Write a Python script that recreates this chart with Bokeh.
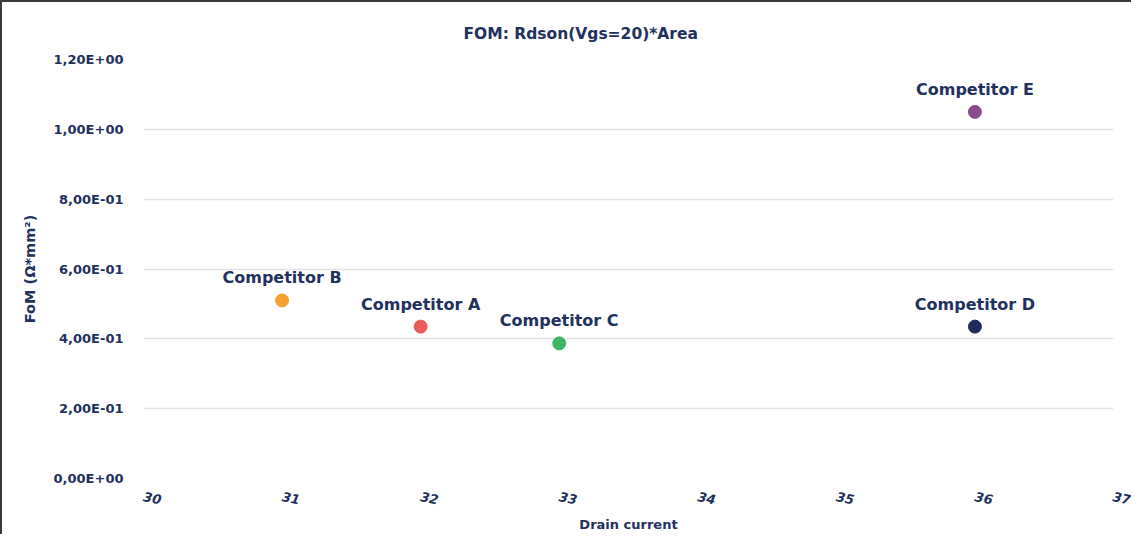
from bokeh.plotting import figure
from bokeh.models import ColumnDataSource, FixedTicker, Range1d
from bokeh.core.properties import value
from bokeh.embed import file_html
from bokeh.resources import INLINE

# data
names = ["Competitor A", "Competitor B", "Competitor C", "Competitor D", "Competitor E"]
drain_current = [32, 31, 33, 36, 36]
fom = [0.435, 0.51, 0.387, 0.435, 1.05]
colors = ["#ec5b5b", "#f5a031", "#3db564", "#1d2a5a", "#8d4b8f"]
y_ticks = [0.0, 0.2, 0.4, 0.6, 0.8, 1.0, 1.2]
y_tick_labels = ["0,00E+00", "2,00E-01", "4,00E-01", "6,00E-01", "8,00E-01", "1,00E+00", "1,20E+00"]
x_ticks = [30, 31, 32, 33, 34, 35, 36, 37]

NAVY = "#22305e"
FONT = "DejaVu Sans"

src = ColumnDataSource(dict(x=drain_current, y=fom, name=names, color=colors))

p = figure(width=1131, height=534, output_backend="svg", toolbar_location=None,
           x_range=Range1d(30, 37), y_range=Range1d(0, 1.2),
           min_border_left=141, min_border_right=20, min_border_top=57, min_border_bottom=58,
           title="FOM: Rdson(Vgs=20)*Area",
           styles={"border-top": "2px solid #3a3a3a", "border-left": "2px solid #3a3a3a"})

p.title.align = "left"
p.title.text_font = FONT
p.title.text_font_size = "15.5px"
p.title.text_font_style = "bold"
p.title.text_color = NAVY
p.title.offset = 320
p.title.standoff = 33

p.outline_line_color = None
p.xgrid.grid_line_color = None
p.ygrid.grid_line_color = "#e3e3e3"
p.ygrid.grid_line_width = 1.5

p.yaxis.ticker = FixedTicker(ticks=y_ticks)
p.yaxis.major_label_overrides = {t: l for t, l in zip(y_ticks, y_tick_labels)}
p.xaxis.ticker = FixedTicker(ticks=x_ticks)

for ax in (p.xaxis[0], p.yaxis[0]):
    ax.axis_line_color = None
    ax.major_tick_line_color = None
    ax.minor_tick_line_color = None
    ax.major_label_text_font = FONT
    ax.major_label_text_color = NAVY
    ax.major_label_text_font_size = "13px"
    ax.axis_label_text_font = FONT
    ax.axis_label_text_color = NAVY
    ax.axis_label_text_font_style = "bold"
    ax.axis_label_text_font_size = "13px"

p.yaxis.major_label_text_font_style = "bold"
p.yaxis.major_label_standoff = 14
p.yaxis.axis_label = "FoM (Ω*mm²)"
p.yaxis.axis_label_standoff = 13
p.yaxis.axis_label_text_font_size = "14.5px"

p.xaxis.major_label_text_font_style = "bold italic"
p.xaxis.major_label_orientation = -0.2
p.xaxis.major_label_text_align = "left"
p.xaxis.major_label_standoff = 12
p.xaxis.axis_label = "Drain current"
p.xaxis.axis_label_standoff = 5
p.xaxis.axis_label_text_font_size = "13px"

p.scatter("x", "y", source=src, size=13, color="color", line_color="color")
p.text("x", "y", text="name", source=src, text_align="center", text_baseline="bottom",
       y_offset=-13, text_font=value(FONT), text_font_size="16px", text_font_style="bold",
       text_color=NAVY)

open("out.html", "w").write(file_html(p, INLINE))
